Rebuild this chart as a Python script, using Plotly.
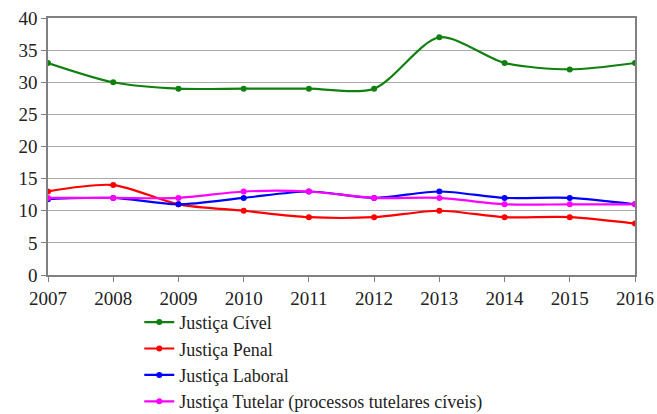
import plotly.graph_objects as go

years = [2007, 2008, 2009, 2010, 2011, 2012, 2013, 2014, 2015, 2016]
civel = [33, 30, 29, 29, 29, 29, 37, 33, 32, 33]
penal = [13, 14, 11, 10, 9, 9, 10, 9, 9, 8]
laboral = [11.8, 12, 11, 12, 13, 12, 13, 12, 12, 11]
tutelar = [12, 12, 12, 13, 13, 12, 12, 11, 11, 11]

series = [
    ("Justiça Cível", civel, "#108010"),
    ("Justiça Penal", penal, "#ff0000"),
    ("Justiça Laboral", laboral, "#0000ff"),
    ("Justiça Tutelar (processos tutelares cíveis)", tutelar, "#ff00ff"),
]

fig = go.Figure()
for name, vals, col in series:
    fig.add_trace(go.Scatter(
        x=years, y=vals, name=name, mode="lines+markers",
        line=dict(color=col, width=2.2, shape="spline", smoothing=0.8),
        marker=dict(color=col, size=6),
    ))

font = "Liberation Serif"
fig.update_layout(
    width=657, height=414,
    margin=dict(l=48, r=22, t=18, b=139, autoexpand=False),
    plot_bgcolor="white", paper_bgcolor="white",
    font=dict(family=font, size=17, color="#222"),
    showlegend=True,
    legend=dict(xref="container", yref="container", x=0.212, y=0.266,
                xanchor="left", yanchor="top",
                font=dict(family=font, size=18, color="#222"),
                tracegroupgap=0, itemwidth=30, bgcolor="rgba(0,0,0,0)"),
    xaxis=dict(range=[2007, 2016], tickmode="array", tickvals=years,
               showgrid=False, showline=True, linecolor="#808080", linewidth=1.5,
               mirror=True, ticks="outside", ticklen=5, tickcolor="#808080",
               zeroline=False, tickfont=dict(size=19), automargin=False),
    yaxis=dict(range=[0, 40], dtick=5, showgrid=True, gridcolor="#aaaaaa",
               gridwidth=1.2, showline=True, linecolor="#808080", linewidth=1.5,
               mirror=True, ticks="outside", ticklen=5, tickcolor="#808080",
               zeroline=False, tickfont=dict(size=19), automargin=False),
)
fig.write_html("out.html", config={"displayModeBar": False},
               post_script="document.body.style.margin='0';document.body.style.overflow='hidden';")
